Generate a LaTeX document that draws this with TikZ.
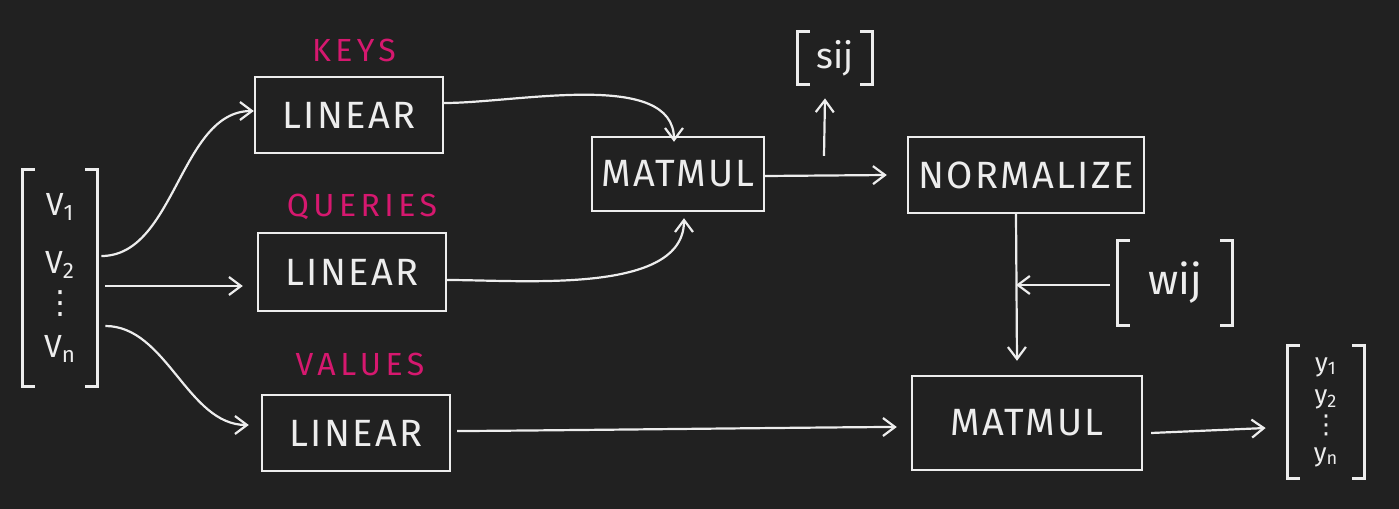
\documentclass[tikz,border=0pt]{standalone}
\usepackage{fontspec}
\setmainfont{Fira Sans}
\newfontfamily\symfont{DejaVu Sans}
\usetikzlibrary{arrows.meta}
\definecolor{board}{HTML}{212121}
\definecolor{chalk}{HTML}{EDEDED}
\definecolor{pink}{HTML}{D6186F}

\tikzset{
  block/.style={draw=chalk, line width=1.2pt, text=chalk, font=\fontsize{19}{22}\selectfont\addfontfeature{LetterSpace=6}, inner sep=0pt},
  tag/.style={text=pink, font=\fontsize{16}{18}\selectfont\addfontfeature{LetterSpace=14}},
  vec/.style={text=chalk, align=center, inner sep=0pt, font=\fontsize{16}{18}\selectfont},
  flow/.style={draw=chalk, line width=1.1pt, -{Straight Barb[length=6pt,width=9pt]}},
}
\newcommand{\brackets}[1]{%
  \draw[chalk, line width=1.2pt] ([xshift=6pt]#1.north west) -- (#1.north west) -- (#1.south west) -- ([xshift=6pt]#1.south west);
  \draw[chalk, line width=1.2pt] ([xshift=-6pt]#1.north east) -- (#1.north east) -- (#1.south east) -- ([xshift=-6pt]#1.south east);
}

\begin{document}
\begin{tikzpicture}[x=0.5pt, y=-0.5pt]
\fill[board] (0,0) rectangle (1399,509);
\useasboundingbox (0,0) rectangle (1399,509);

\node[vec, minimum width=37pt, minimum height=108pt] (vin) at (60,278)
  {V\textsubscript{1}\\[11pt]V\textsubscript{2}\\[2pt]{\symfont ⋮}\\[4pt]V\textsubscript{n}};
\brackets{vin}

\node[tag] (keystag) at (354,50) {KEYS};
\node[tag] (querytag) at (362,207) {QUERIES};
\node[tag] (valuetag) at (360,364) {VALUES};

\node[block, minimum width=94pt, minimum height=38pt] (keys) at (349,115) {LINEAR};
\node[block, minimum width=94pt, minimum height=39pt] (queries) at (352,272) {LINEAR};
\node[block, minimum width=94pt, minimum height=38pt] (values) at (356,433) {LINEAR};

\node[block, minimum width=86pt, minimum height=37pt] (mm1) at (678,174) {MATMUL};
\node[block, minimum width=118pt, minimum height=38pt] (norm) at (1026,175) {NORMALIZE};
\node[block, minimum width=115pt, minimum height=47pt] (mm2) at (1027,423) {MATMUL};

\node[vec, minimum width=37pt, minimum height=26pt, font=\fontsize{18}{20}\selectfont] (sij) at (835,58) {sij};
\brackets{sij}
\node[vec, minimum width=57pt, minimum height=42pt, font=\fontsize{21}{24}\selectfont] (wij) at (1175,283) {wij};
\brackets{wij}
\node[vec, minimum width=38pt, minimum height=66pt, font=\fontsize{13}{14}\selectfont] (yout) at (1326,412)
  {y\textsubscript{1}\\[2pt]y\textsubscript{2}\\[1pt]{\symfont ⋮}\\[0pt]y\textsubscript{n}};
\brackets{yout}

\coordinate (wjoin) at (1016,285);

\draw[flow] ([xshift=2pt,yshift=11pt]vin.east) to[out=0, in=180, looseness=0.9] ([yshift=2pt]keys.west);
\draw[flow] ([xshift=4pt,yshift=-4pt]vin.east) -- ([xshift=-7pt,yshift=-7pt]queries.west);
\draw[flow] ([xshift=4pt,yshift=-24pt]vin.east) to[out=0, in=180, looseness=0.9] ([xshift=-6pt,yshift=4pt]values.west);

\draw[flow] ([yshift=6pt]keys.east) to[out=0, in=90, looseness=0.8] ([xshift=-2pt,yshift=-3pt]mm1.north);
\draw[flow] ([yshift=-4pt]queries.east) to[out=0, in=-90, looseness=0.8] ([xshift=3pt,yshift=-3pt]mm1.south);
\draw[flow] ([yshift=-1pt]mm1.east) -- ([xshift=-10pt]norm.west);
\draw[flow] ([xshift=73pt,yshift=-10pt]mm1.north) -- ([xshift=-5pt,yshift=-7pt]sij.south);

\draw[flow] ([xshift=-5pt]norm.south) -- ([xshift=-5pt,yshift=7pt]mm2.north);
\draw[flow] ([xshift=-4pt,yshift=-1pt]wij.west) -- (wjoin);

\draw[flow] ([xshift=3pt,yshift=1pt]values.east) to[out=0, in=180, looseness=0.3] ([xshift=-7pt,yshift=-2pt]mm2.west);
\draw[flow] ([xshift=4pt,yshift=-5pt]mm2.east) -- ([xshift=-11pt,yshift=-8pt]yout.west);
\end{tikzpicture}
\end{document}
